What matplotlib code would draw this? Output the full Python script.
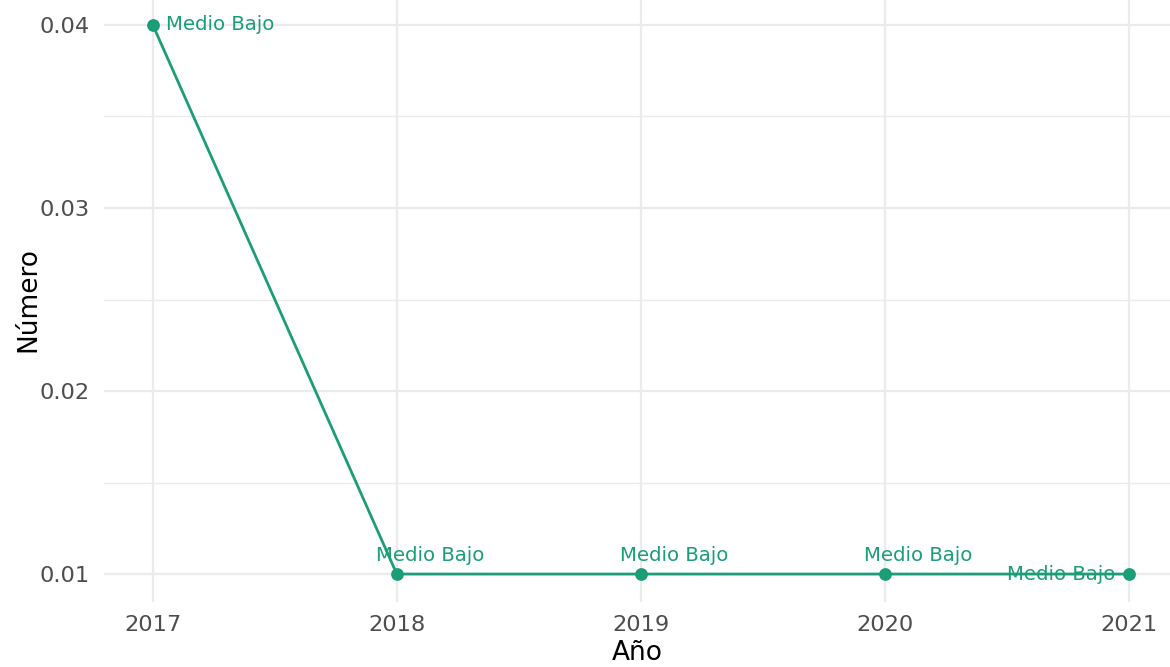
import matplotlib
matplotlib.use("Agg")
import matplotlib.pyplot as plt

# Data
years = [2017, 2018, 2019, 2020, 2021]
values = [0.04, 0.01, 0.01, 0.01, 0.01]
labels = ["Medio Bajo", "Medio Bajo", "Medio Bajo", "Medio Bajo", "Medio Bajo"]
y_ticks = [0.01, 0.02, 0.03, 0.04]
y_minor = [0.015, 0.025, 0.035]

plt.rcParams["font.family"] = ["DejaVu Sans"]

W, H = 1170, 667
fig = plt.figure(figsize=(W / 100, H / 100), dpi=100)

# Panel placement in pixels (left, top, right, bottom)
px_l, px_t, px_r, px_b = 104, -2.5, 1170, 601.5
ax = fig.add_axes([px_l / W, 1 - px_b / H, (px_r - px_l) / W, (px_b - px_t) / H])

green = "#1b9e77"
grid_c = "#ebebeb"

ax.set_xlim(2016.8, 2016.8 + (px_r - px_l) / 244.0)
ax.set_ylim(0.0085, 0.0415)

for s in ax.spines.values():
    s.set_visible(False)

ax.set_xticks(years)
ax.set_xticklabels([str(y) for y in years])
ax.set_yticks(y_ticks)
ax.set_yticklabels([f"{v:.2f}" for v in y_ticks])
ax.set_yticks(y_minor, minor=True)
ax.tick_params(axis="both", which="both", length=0, colors="#4d4d4d", labelsize=16.2)
ax.tick_params(axis="x", pad=10)
ax.tick_params(axis="y", pad=10)

ax.grid(True, which="major", color=grid_c, linewidth=1.6)
ax.grid(True, which="minor", axis="y", color=grid_c, linewidth=1.0)
ax.set_axisbelow(True)

ax.plot(years, values, color=green, linewidth=2.0, zorder=3)
ax.scatter(years, values, s=85, color=green, zorder=4, linewidths=0)

lab_fs = 14.2
for i, (x, y, t) in enumerate(zip(years, values, labels)):
    if i == 0:
        ax.annotate(t, (x, y), xytext=(9.5, 0), textcoords="offset points",
                    ha="left", va="center", color=green, fontsize=lab_fs)
    elif i == len(years) - 1:
        ax.annotate(t, (x, y), xytext=(-9.5, 0), textcoords="offset points",
                    ha="right", va="center", color=green, fontsize=lab_fs)
    else:
        ax.annotate(t, (x, y), xytext=(-15, 13.5), textcoords="offset points",
                    ha="left", va="center", color=green, fontsize=lab_fs)

ax.set_xlabel("Año", fontsize=19, color="black", labelpad=3)
ax.set_ylabel("Número", fontsize=19, color="black", labelpad=-1)

fig.savefig("out.png", dpi=100)
